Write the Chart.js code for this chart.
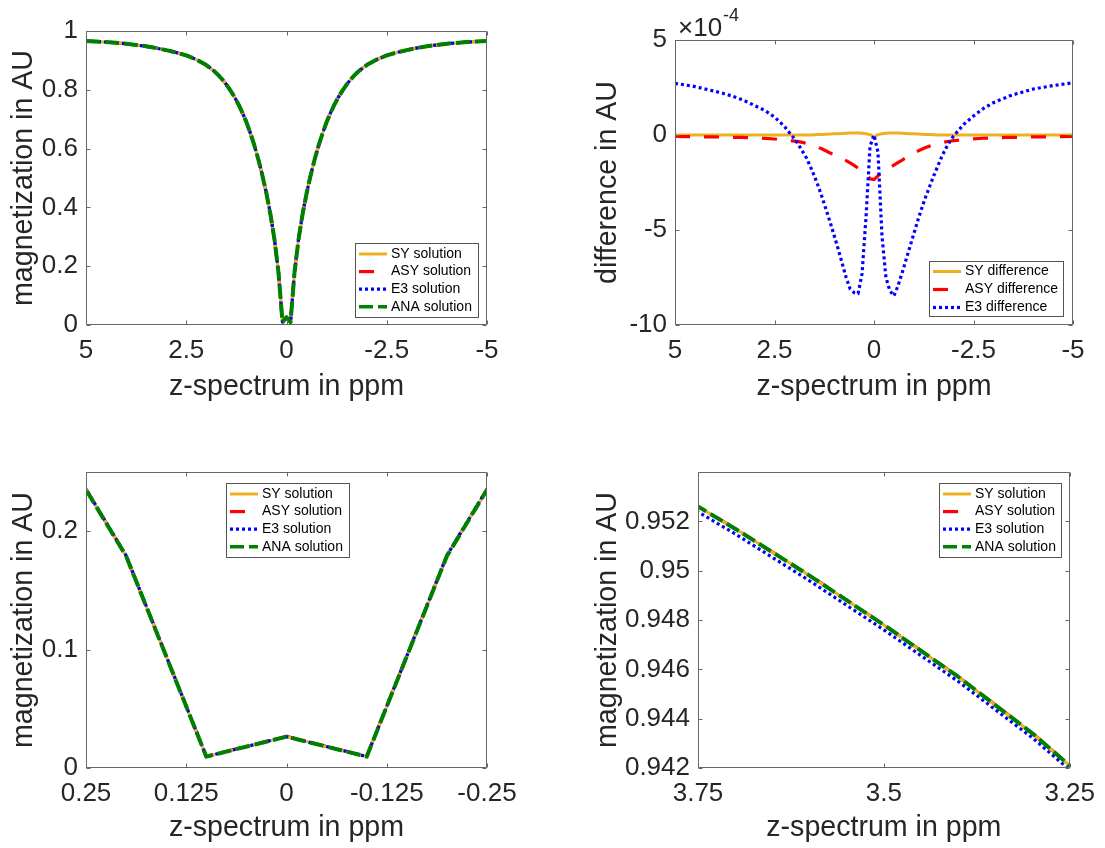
<!DOCTYPE html>
<html>
<head>
<meta charset="utf-8">
<script src="https://cdn.jsdelivr.net/npm/chart.js@4.4.0/dist/chart.umd.min.js"></script>
<style>
    html, body { margin: 0; padding: 0; background: #fff; }
    #figura { position: relative; width: 1105px; height: 848px; overflow: hidden; background: #fff; }
    #figura canvas { position: absolute; }
</style>
</head>
<body>
<div id="figura">
    <canvas id="painel-1" width="552" height="424" style="left:0;top:0"></canvas>
    <canvas id="painel-2" width="553" height="424" style="left:552px;top:0"></canvas>
    <canvas id="painel-3" width="552" height="424" style="left:0;top:424px"></canvas>
    <canvas id="painel-4" width="553" height="424" style="left:552px;top:424px"></canvas>
</div>
<script>
// ==================== DADOS ====================
// offsets do z-spectrum (ppm), mais finos perto do centro e em torno de 3.5 ppm
const ppm = [
    5, 4.5, 4, 3.8, 3.7, 3.6, 3.5, 3.4, 3.3, 3.2, 3, 2.75, 2.5, 2.25, 2,
    1.9, 1.8, 1.7, 1.6, 1.5, 1.4, 1.3, 1.2, 1.1, 1, 0.9, 0.8, 0.7, 0.6, 0.5, 0.4, 0.3, 0.2, 0.1, 0,
    -0.1, -0.2, -0.3, -0.4, -0.5, -0.6, -0.7, -0.8, -0.9, -1, -1.1, -1.2, -1.3, -1.4, -1.5, -1.6, -1.7, -1.8, -1.9, -2,
    -2.25, -2.5, -2.75, -3, -3.2, -3.3, -3.4, -3.5, -3.6, -3.7, -3.8, -4, -4.5, -5
];

const anaSolution = [
    0.9660, 0.9625, 0.9570, 0.9535, 0.9517, 0.9498, 0.9478, 0.9457, 0.9434, 0.9408, 0.9350, 0.9270, 0.9170, 0.9030, 0.8840,
    0.8740, 0.8630, 0.8500, 0.8350, 0.8180, 0.7980, 0.7760, 0.7510, 0.7220, 0.6900, 0.6520, 0.6100, 0.5620, 0.5080, 0.4470, 0.3760, 0.2910, 0.1790, 0.0096, 0.0265,
    0.0096, 0.1790, 0.2910, 0.3760, 0.4470, 0.5080, 0.5620, 0.6100, 0.6520, 0.6900, 0.7220, 0.7510, 0.7760, 0.7980, 0.8180, 0.8350, 0.8500, 0.8630, 0.8740, 0.8840,
    0.9030, 0.9170, 0.9270, 0.9350, 0.9408, 0.9434, 0.9457, 0.9478, 0.9498, 0.9517, 0.9535, 0.9570, 0.9625, 0.9660
];

const sySolution = [
    0.9660, 0.9625, 0.9570, 0.9535, 0.9517, 0.9498, 0.9478, 0.9457, 0.9434, 0.9408, 0.9350, 0.9270, 0.9170, 0.9030, 0.8840,
    0.8740, 0.8630, 0.8500, 0.8350, 0.8180, 0.7980, 0.7760, 0.7510, 0.7220, 0.6900, 0.6520, 0.6100, 0.5620, 0.5080, 0.4470, 0.3760, 0.2910, 0.1790, 0.0096, 0.0265,
    0.0096, 0.1790, 0.2910, 0.3760, 0.4470, 0.5080, 0.5620, 0.6100, 0.6520, 0.6900, 0.7220, 0.7510, 0.7760, 0.7980, 0.8180, 0.8350, 0.8500, 0.8630, 0.8740, 0.8840,
    0.9030, 0.9170, 0.9270, 0.9350, 0.9408, 0.9434, 0.9457, 0.9478, 0.9498, 0.9517, 0.9535, 0.9570, 0.9625, 0.9660
];

const asySolution = [
    0.96601, 0.96251, 0.95701, 0.95351, 0.95171, 0.94981, 0.94781, 0.94571, 0.94341, 0.94081, 0.93502, 0.92702, 0.91702, 0.90303, 0.88403,
    0.87403, 0.86304, 0.85004, 0.83505, 0.81806, 0.79807, 0.77607, 0.75108, 0.72210, 0.69011, 0.65212, 0.61013, 0.56214, 0.50815, 0.44716, 0.37618, 0.29119, 0.17921, 0.00983, 0.02674,
    0.00982, 0.17920, 0.29119, 0.37617, 0.44716, 0.50815, 0.56213, 0.61012, 0.65211, 0.69010, 0.72209, 0.75108, 0.77607, 0.79806, 0.81805, 0.83505, 0.85004, 0.86304, 0.87403, 0.88403,
    0.90303, 0.91702, 0.92702, 0.93502, 0.94081, 0.94341, 0.94571, 0.94781, 0.94981, 0.95171, 0.95351, 0.95701, 0.96251, 0.96601
];

const e3Solution = [
    0.96573, 0.96225, 0.95677, 0.95328, 0.95149, 0.94959, 0.94760, 0.94551, 0.94322, 0.94063, 0.93485, 0.92687, 0.91691, 0.90296, 0.88402,
    0.87405, 0.86309, 0.85012, 0.83517, 0.81822, 0.79827, 0.77633, 0.75140, 0.72246, 0.69053, 0.65260, 0.61068, 0.56275, 0.50881, 0.44783, 0.37684, 0.29173, 0.17943, 0.00966, 0.02650,
    0.00969, 0.17953, 0.29175, 0.37682, 0.44785, 0.50880, 0.56273, 0.61066, 0.65259, 0.69052, 0.72245, 0.75139, 0.77633, 0.79827, 0.81822, 0.83517, 0.85012, 0.86307, 0.87404, 0.88401,
    0.90295, 0.91690, 0.92686, 0.93483, 0.94061, 0.94320, 0.94549, 0.94759, 0.94958, 0.95148, 0.95327, 0.95676, 0.96224, 0.96573
];

// diferencas em unidades de 1e-4 (o eixo mostra o fator x10^-4)
const syDifference = [
    0, 0, 0, 0, 0, 0, 0, 0, 0, 0, 0, 0, 0, 0, 0,
    0, 0, 0, 0, 0.01, 0.02, 0.03, 0.04, 0.05, 0.06, 0.07, 0.08, 0.09, 0.1, 0.1, 0.1, 0.09, 0.07, 0.02, -0.12,
    0.02, 0.07, 0.09, 0.1, 0.1, 0.1, 0.09, 0.08, 0.07, 0.06, 0.05, 0.04, 0.03, 0.02, 0.01, 0, 0, 0, 0, 0,
    0, 0, 0, 0, 0, 0, 0, 0, 0, 0, 0, 0, 0, 0
];

const asyDifference = [
    -0.08, -0.09, -0.1, -0.11, -0.11, -0.12, -0.12, -0.13, -0.13, -0.14, -0.15, -0.18, -0.21, -0.26, -0.32,
    -0.35, -0.39, -0.44, -0.5, -0.57, -0.65, -0.74, -0.84, -0.95, -1.05, -1.15, -1.25, -1.35, -1.47, -1.6, -1.75, -1.9, -2.05, -2.3, -2.35,
    -2.15, -1.95, -1.85, -1.72, -1.58, -1.45, -1.33, -1.2, -1.08, -0.95, -0.85, -0.75, -0.66, -0.58, -0.5, -0.45, -0.4, -0.36, -0.33, -0.3,
    -0.25, -0.2, -0.17, -0.15, -0.14, -0.13, -0.13, -0.12, -0.12, -0.11, -0.11, -0.1, -0.09, -0.08
];

const e3Difference = [
    2.72, 2.55, 2.3, 2.2, 2.13, 2.07, 2.0, 1.92, 1.85, 1.75, 1.55, 1.3, 0.95, 0.45, -0.2,
    -0.5, -0.85, -1.2, -1.65, -2.15, -2.7, -3.3, -3.95, -4.6, -5.3, -6.0, -6.75, -7.5, -8.1, -8.3, -8.35, -7.3, -4.3, -0.6, 0,
    -0.9, -5.3, -7.5, -8.2, -8.47, -7.95, -7.3, -6.6, -5.9, -5.2, -4.5, -3.85, -3.25, -2.7, -2.15, -1.65, -1.15, -0.72, -0.35, -0.05,
    0.55, 1.0, 1.4, 1.7, 1.88, 1.96, 2.05, 2.12, 2.18, 2.24, 2.3, 2.42, 2.6, 2.75
];

// ticks de cada painel
const ticksXFull = [5, 2.5, 0, -2.5, -5];
const ticksXCentro = [0.25, 0.125, 0, -0.125, -0.25];
const ticksXAsa = [3.75, 3.5, 3.25];
const ticksYMag = [0, 0.2, 0.4, 0.6, 0.8, 1];
const ticksYDif = [-10, -5, 0, 5];
const ticksYCentro = [0, 0.1, 0.2];
const ticksYAsa = [0.942, 0.944, 0.946, 0.948, 0.95, 0.952];

// ==================== ESTILO ====================
const FONTE = '"Liberation Sans", Arial, Helvetica, sans-serif';
const COR_TEXTO = '#262626';
const COR_EIXO = '#666666';

const estilos = {
    sy:  { borderColor: '#EDB120', borderWidth: 3,   borderDash: [] },
    asy: { borderColor: '#FF0000', borderWidth: 3.2, borderDash: [15, 14] },
    e3:  { borderColor: '#0000FF', borderWidth: 3.2, borderDash: [3, 3] },
    ana: { borderColor: '#008000', borderWidth: 4,   borderDash: [14, 5] }
};

function serie(label, ys, estilo, ordem) {
    return {
        label: label,
        data: ppm.map((x, i) => ({ x: x, y: ys[i] })),
        showLine: true,
        pointRadius: 0,
        tension: 0,
        clip: 0,
        order: ordem,
        borderJoinStyle: 'round',
        borderCapStyle: 'butt',
        ...estilo
    };
}

// ASY fica por baixo do SY: nas falhas do tracejado verde aparece o amarelo
function seriesSolucao() {
    return [
        serie('SY solution', sySolution, estilos.sy, 3),
        serie('ASY solution', asySolution, estilos.asy, 4),
        serie('E3 solution', e3Solution, estilos.e3, 2),
        serie('ANA solution', anaSolution, estilos.ana, 1)
    ];
}

// caixa estilo MATLAB, ticks para dentro, legenda e expoente
const pluginEixos = {
    id: 'eixosMatlab',
    afterDatasetsDraw(chart, args, opts) {
        const { ctx, chartArea: a, scales } = chart;
        const L = Math.round(a.left) + 0.5, R = Math.round(a.right) - 0.5;
        const T = Math.round(a.top) + 0.5, B = Math.round(a.bottom) - 0.5;
        const tl = 4;
        ctx.save();
        ctx.strokeStyle = COR_EIXO;
        ctx.lineWidth = 1;
        ctx.beginPath();
        ctx.rect(L, T, R - L, B - T);
        scales.x.ticks.forEach(t => {
            const px = Math.round(scales.x.getPixelForValue(t.value)) + 0.5;
            ctx.moveTo(px, B); ctx.lineTo(px, B - tl);
            ctx.moveTo(px, T); ctx.lineTo(px, T + tl);
        });
        scales.y.ticks.forEach(t => {
            const py = Math.round(scales.y.getPixelForValue(t.value)) + 0.5;
            ctx.moveTo(L, py); ctx.lineTo(L + tl, py);
            ctx.moveTo(R, py); ctx.lineTo(R - tl, py);
        });
        ctx.stroke();

        if (opts.expoente) {
            ctx.fillStyle = COR_TEXTO;
            ctx.textBaseline = 'alphabetic';
            ctx.textAlign = 'left';
            ctx.font = '26px ' + FONTE;
            const x0 = a.left + 3;
            ctx.fillText('\u00d710', x0, a.top - 4.5);
            const w = ctx.measureText('\u00d710').width;
            ctx.font = '18px ' + FONTE;
            ctx.fillText(opts.expoente, x0 + w + 1, a.top - 19);
        }

        const lg = opts.legenda;
        if (lg) {
            ctx.fillStyle = '#fff';
            ctx.fillRect(lg.x, lg.y, lg.w, lg.h);
            ctx.strokeStyle = '#555555';
            ctx.strokeRect(lg.x + 0.5, lg.y + 0.5, lg.w, lg.h);
            chart.data.datasets.forEach((ds, i) => {
                const cy = lg.y + lg.primeira + i * lg.linha;
                ctx.save();
                ctx.strokeStyle = ds.borderColor;
                ctx.lineWidth = Math.min(ds.borderWidth, 3.5);
                ctx.setLineDash(ds.borderDash || []);
                ctx.lineCap = 'butt';
                ctx.beginPath();
                ctx.moveTo(lg.x + 4, cy);
                ctx.lineTo(lg.x + 32, cy);
                ctx.stroke();
                ctx.restore();
                ctx.fillStyle = '#000';
                ctx.font = '14px ' + FONTE;
                ctx.textBaseline = 'middle';
                ctx.textAlign = 'left';
                ctx.fillText(ds.label, lg.x + 36, cy);
            });
        }
        ctx.restore();
    }
};

function criarPainel(id, cfg) {
    const canvas = document.getElementById(id);
    const W = canvas.width, H = canvas.height;
    const p = cfg.area;
    return new Chart(canvas, {
        type: 'scatter',
        data: { datasets: cfg.datasets },
        options: {
            responsive: false,
            animation: false,
            devicePixelRatio: 1,
            events: [],
            layout: { padding: { left: 0, top: p.top, right: W - p.right, bottom: 0 } },
            plugins: {
                legend: { display: false },
                tooltip: { enabled: false },
                eixosMatlab: { legenda: cfg.legenda, expoente: cfg.expoente }
            },
            scales: {
                x: {
                    type: 'linear',
                    position: 'bottom',
                    reverse: true,
                    min: cfg.xMin,
                    max: cfg.xMax,
                    afterBuildTicks: s => { s.ticks = cfg.xTicks.map(v => ({ value: v })); },
                    afterFit: s => { s.height = H - p.bottom; },
                    grid: { display: false, drawTicks: false },
                    border: { display: false },
                    ticks: {
                        padding: 10,
                        color: COR_TEXTO,
                        font: { family: FONTE, size: 26 },
                        maxRotation: 0,
                        autoSkip: false,
                        callback: v => String(v)
                    },
                    title: {
                        display: true,
                        text: 'z-spectrum in ppm',
                        color: COR_TEXTO,
                        font: { family: FONTE, size: 28.6 },
                        padding: { top: 0, bottom: cfg.tituloX }
                    }
                },
                y: {
                    type: 'linear',
                    position: 'left',
                    min: cfg.yMin,
                    max: cfg.yMax,
                    afterBuildTicks: s => { s.ticks = cfg.yTicks.map(v => ({ value: v })); },
                    afterFit: s => { s.width = p.left; },
                    grid: { display: false, drawTicks: false },
                    border: { display: false },
                    ticks: {
                        padding: 8,
                        color: COR_TEXTO,
                        font: { family: FONTE, size: 26 },
                        autoSkip: false,
                        callback: v => String(v)
                    },
                    title: {
                        display: true,
                        text: cfg.tituloY,
                        color: COR_TEXTO,
                        font: { family: FONTE, size: 28.6 },
                        padding: { top: cfg.tituloYPos, bottom: 0 }
                    }
                }
            }
        },
        plugins: [pluginEixos]
    });
}

// ==================== PAINEIS ====================
criarPainel('painel-1', {
    area: { left: 86, top: 31, right: 487, bottom: 325 },
    datasets: seriesSolucao(),
    xMin: -5, xMax: 5, xTicks: ticksXFull,
    yMin: 0, yMax: 1, yTicks: ticksYMag,
    tituloY: 'magnetization in AU', tituloYPos: 7, tituloX: 20,
    legenda: { x: 355, y: 243, w: 123, h: 74, primeira: 11, linha: 17.6 }
});

criarPainel('painel-2', {
    area: { left: 123, top: 40, right: 521, bottom: 325 },
    datasets: [
        serie('SY difference', syDifference, estilos.sy, 3),
        serie('ASY difference', asyDifference, estilos.asy, 2),
        serie('E3 difference', e3Difference, estilos.e3, 1)
    ],
    xMin: -5, xMax: 5, xTicks: ticksXFull,
    yMin: -10, yMax: 5, yTicks: ticksYDif,
    tituloY: 'difference in AU', tituloYPos: 38.8, tituloX: 20,
    expoente: '-4',
    legenda: { x: 377, y: 261, w: 134, h: 55, primeira: 10.5, linha: 18 }
});

criarPainel('painel-3', {
    area: { left: 86, top: 48, right: 487, bottom: 344 },
    datasets: seriesSolucao(),
    xMin: -0.25, xMax: 0.25, xTicks: ticksXCentro,
    yMin: 0, yMax: 0.25, yTicks: ticksYCentro,
    tituloY: 'magnetization in AU', tituloYPos: 7, tituloX: 2.5,
    legenda: { x: 226, y: 59, w: 123, h: 74, primeira: 11, linha: 17.6 }
});

criarPainel('painel-4', {
    area: { left: 146, top: 48, right: 521, bottom: 344 },
    datasets: seriesSolucao(),
    xMin: 3.25, xMax: 3.75, xTicks: ticksXAsa,
    yMin: 0.942, yMax: 0.954, yTicks: ticksYAsa,
    tituloY: 'magnetization in AU', tituloYPos: 38.8, tituloX: 2.5,
    legenda: { x: 387, y: 59, w: 122, h: 74, primeira: 11, linha: 17.6 }
});
</script>
</body>
</html>
